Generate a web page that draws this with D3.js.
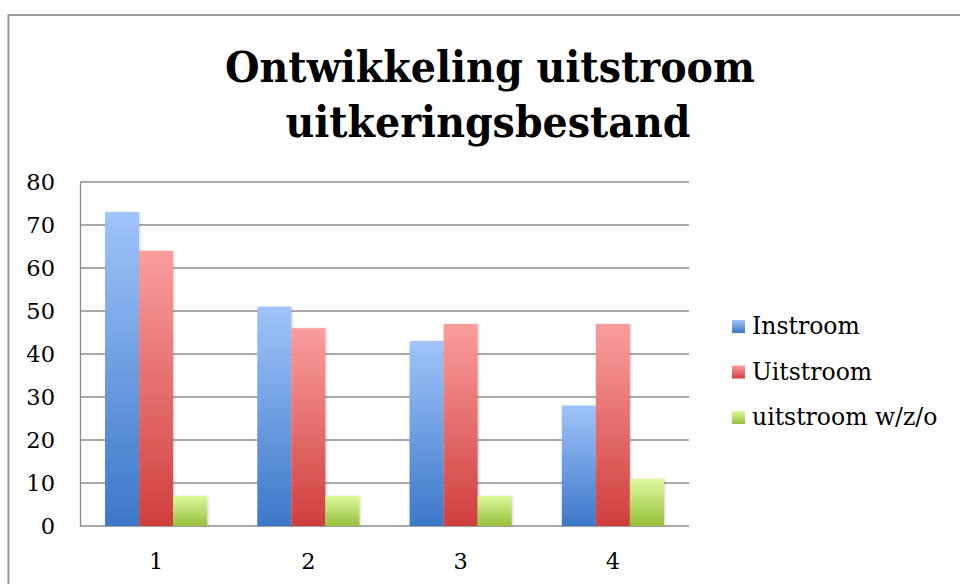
<!DOCTYPE html>
<html>
<head>
<meta charset="utf-8">
<script src="https://cdn.jsdelivr.net/npm/d3@7"></script>
<style>
  body { margin: 0; background: #fff; }
  svg { display: block; }
</style>
</head>
<body>
<div id="chart"></div>
<script>
// data
var categories = ["1", "2", "3", "4"];
var seriesNames = ["Instroom", "Uitstroom", "uitstroom w/z/o"];
var instroom = [73, 51, 43, 28];
var uitstroom = [64, 46, 47, 47];
var uitstroomWzo = [7, 7, 7, 11];
var yTicks = [0, 10, 20, 30, 40, 50, 60, 70, 80];

var W = 960, H = 584;
var svg = d3.select("#chart").append("svg").attr("width", W).attr("height", H);

var colors = [
  { top: "#a0c4fa", bottom: "#3b78c9" },
  { top: "#fa9e9c", bottom: "#cf3f3d" },
  { top: "#dcfa9c", bottom: "#97bf3a" }
];

var defs = svg.append("defs");
colors.forEach(function(c, i){
  var g = defs.append("linearGradient").attr("id", "grad" + i)
    .attr("x1", 0).attr("y1", 0).attr("x2", 0).attr("y2", 1);
  g.append("stop").attr("offset", "0%").attr("stop-color", c.top);
  g.append("stop").attr("offset", "100%").attr("stop-color", c.bottom);
});
var shadow = defs.append("filter").attr("id", "shadow")
  .attr("x", "-20%").attr("y", "-10%").attr("width", "140%").attr("height", "120%");
shadow.append("feDropShadow").attr("dx", 1).attr("dy", 0).attr("stdDeviation", 1.2)
  .attr("flood-color", "#000").attr("flood-opacity", 0.18);

// outer chart border
svg.append("rect")
   .attr("x", 8.5).attr("y", 15).attr("width", W + 10).attr("height", H + 10)
   .attr("fill", "none").attr("stroke", "#9a9a9a").attr("stroke-width", 2);

// title
var title = svg.append("g").attr("font-family", "'DejaVu Serif', serif")
  .attr("font-weight", "bold").attr("font-size", "43px").attr("fill", "#000");
title.append("text").attr("x", 490).attr("y", 82).attr("text-anchor", "middle")
  .attr("textLength", 530).attr("lengthAdjust", "spacingAndGlyphs")
  .text("Ontwikkeling uitstroom");
title.append("text").attr("x", 488).attr("y", 137).attr("text-anchor", "middle")
  .attr("textLength", 405).attr("lengthAdjust", "spacingAndGlyphs")
  .text("uitkeringsbestand");

var plot = { left: 80, top: 182, right: 689, bottom: 526 };

var x0 = d3.scaleBand().domain(categories).range([plot.left, plot.right]);
// bars are ~34px in a 152px band: 3 bars = 102, ~25px each side
var x1 = d3.scaleBand().domain(d3.range(seriesNames.length))
  .range([0, x0.bandwidth()]).paddingInner(0).paddingOuter(25 / 34);
var y = d3.scaleLinear().domain([0, 80]).range([plot.bottom, plot.top]);

// gridlines
svg.append("g").selectAll("line").data(yTicks).join("line")
  .attr("x1", plot.left).attr("x2", plot.right)
  .attr("y1", function(d){ return y(d); }).attr("y2", function(d){ return y(d); })
  .attr("stroke", "#8c8c8c").attr("stroke-width", 1.3);

// y axis
var yAxis = svg.append("g").attr("transform", "translate(" + plot.left + ",0)")
  .call(d3.axisLeft(y).tickValues(yTicks).tickSize(0).tickPadding(25));
yAxis.select(".domain").attr("stroke", "#8c8c8c").attr("stroke-width", 1.3);
yAxis.selectAll("text").attr("font-family", "'DejaVu Serif', serif")
  .attr("font-size", "22.5px").attr("fill", "#000");

// x axis labels
var xAxis = svg.append("g").attr("transform", "translate(0," + plot.bottom + ")")
  .call(d3.axisBottom(x0).tickSize(0).tickPadding(27));
xAxis.select(".domain").remove();
xAxis.selectAll("text").attr("font-family", "'DejaVu Serif', serif")
  .attr("font-size", "22.5px").attr("fill", "#000");

// bars
var seriesData = [instroom, uitstroom, uitstroomWzo];
var rows = categories.map(function(c, ci){
  return { cat: c, vals: seriesData.map(function(s){ return s[ci]; }) };
});
var groups = svg.append("g").selectAll("g").data(rows).join("g")
  .attr("transform", function(d){ return "translate(" + x0(d.cat) + ",0)"; });
groups.selectAll("rect").data(function(d){ return d.vals; }).join("rect")
  .attr("x", function(d, i){ return x1(i); })
  .attr("width", x1.bandwidth())
  .attr("y", function(d){ return y(d); })
  .attr("height", function(d){ return plot.bottom - y(d); })
  .attr("fill", function(d, i){ return "url(#grad" + i + ")"; })
  .attr("filter", "url(#shadow)");

// legend
var legend = svg.append("g").attr("transform", "translate(732,326)");
var items = legend.selectAll("g").data(seriesNames).join("g")
  .attr("transform", function(d, i){ return "translate(0," + (i * 45.5) + ")"; });
items.append("rect").attr("x", 0).attr("y", -6).attr("width", 13).attr("height", 13)
  .attr("fill", function(d, i){ return "url(#grad" + i + ")"; });
items.append("text").attr("x", 20).attr("y", 0).attr("dy", "0.35em")
  .attr("font-family", "'DejaVu Serif', serif").attr("font-size", "23.5px").attr("fill", "#000")
  .text(function(d){ return d; });
</script>
</body>
</html>
